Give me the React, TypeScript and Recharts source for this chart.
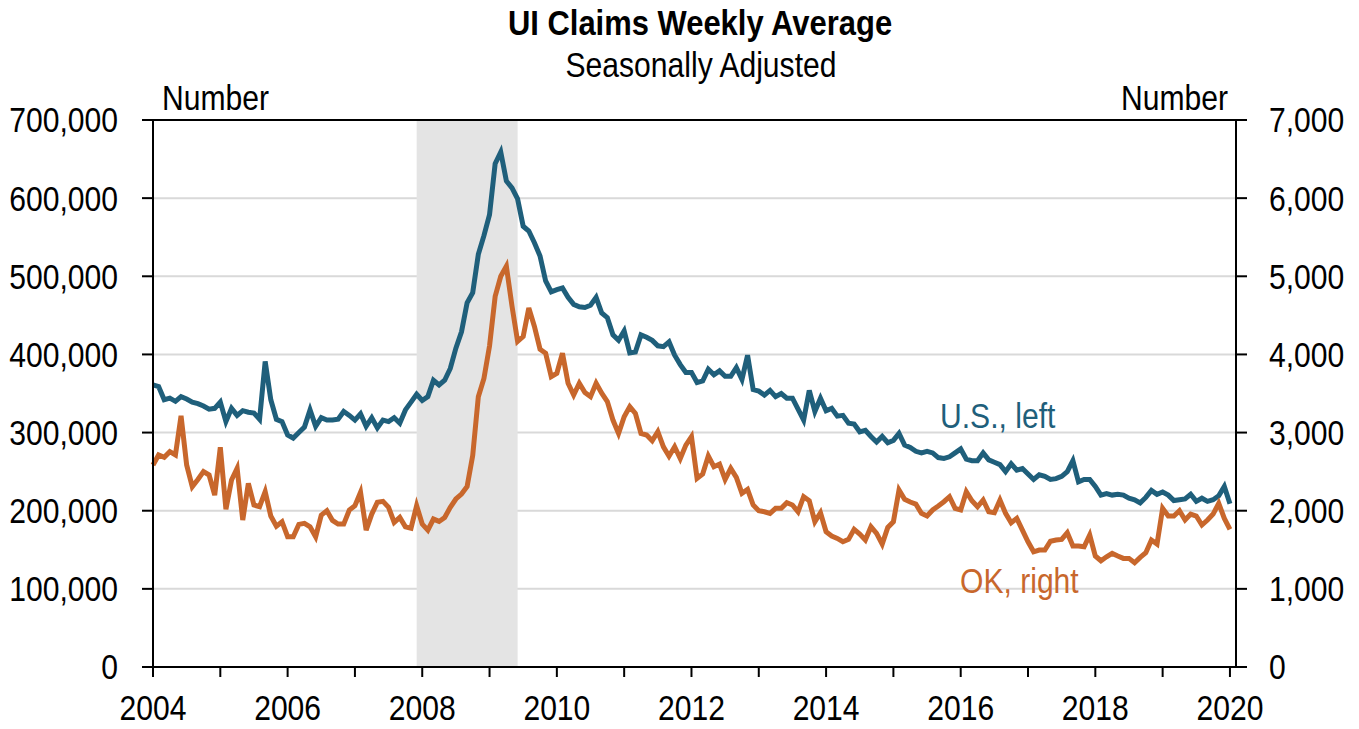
import React from 'react';
import {
  ComposedChart,
  Line,
  XAxis,
  YAxis,
  CartesianGrid,
  ReferenceArea,
  ReferenceLine,
} from 'recharts';

// no narrow font installed, so text is squeezed horizontally
const FONT = "'Liberation Sans', Arial, sans-serif";
const SQUEEZE = 0.86;
const US_COLOR = '#1f5f7b';
const OK_COLOR = '#c8672c';

// monthly, Jan 2004 .. Jan 2020
const START_YEAR = 2004;

// U.S. weekly average initial claims (thousands), left axis
const usClaims = [
  361, 359, 342, 344, 340, 346, 343, 339, 337, 334, 330, 331,
  339, 314, 331, 322, 328, 326, 325, 317, 391, 342, 317, 314,
  297, 293, 300, 307, 329, 308, 319, 316, 316, 317, 327, 322,
  316, 324, 308, 319, 306, 316, 314, 319, 312, 329, 339, 349,
  341, 346, 367, 361, 367, 382, 408, 429, 466, 479, 528, 552,
  579, 644, 659, 622, 613, 599, 564, 558, 543, 526, 494, 480,
  483, 485, 473, 464, 461, 460, 463, 473, 453, 447, 425, 418,
  430, 402, 403, 425, 422, 418, 411, 410, 416, 399, 387, 377,
  377, 364, 366, 381, 374, 379, 372, 372, 383, 368, 399, 355,
  353, 348, 354, 346, 350, 344, 344, 330, 316, 354, 327, 344,
  328, 331, 321, 322, 312, 311, 301, 303, 295, 288, 295, 287,
  290, 299, 284, 281, 276, 274, 276, 274, 268, 267, 269, 274,
  279, 266, 264, 264, 274, 265, 262, 259, 250, 260, 252, 254,
  247, 240, 246, 244, 240, 241, 244, 250, 264, 237, 240, 240,
  231, 220, 222, 220, 221, 220, 216, 214, 210, 217, 226, 221,
  224, 220, 213, 214, 215, 221, 212, 216, 212, 214, 219, 231,
  209,
];

// Oklahoma weekly average initial claims, right axis
const okClaims = [
  2585, 2714, 2684, 2756, 2714, 3214, 2585, 2308, 2400, 2500, 2457, 2200,
  2812, 2017, 2393, 2543, 1880, 2350, 2073, 2051, 2244, 1932, 1803, 1859,
  1667, 1667, 1825, 1838, 1795, 1667, 1944, 2000, 1876, 1829, 1829, 2009,
  2064, 2236, 1751, 1957, 2107, 2120, 2043, 1850, 1914, 1794, 1777, 2064,
  1829, 1751, 1893, 1863, 1914, 2043, 2150, 2214, 2309, 2707, 3457, 3693,
  4110, 4743, 5000, 5128, 4620, 4166, 4230, 4594, 4358, 4067, 4016, 3717,
  3759, 4016, 3631, 3481, 3631, 3511, 3460, 3631, 3503, 3396, 3160, 2989,
  3203, 3332, 3246, 2989, 2968, 2895, 3011, 2818, 2698, 2818, 2668, 2840,
  2947, 2414, 2469, 2699, 2563, 2597, 2401, 2542, 2426, 2222, 2273, 2073,
  2000, 1987, 1966, 2030, 2030, 2102, 2073, 1987, 2179, 2128, 1859, 1974,
  1731, 1676, 1646, 1603, 1633, 1761, 1701, 1625, 1795, 1709, 1573, 1786,
  1859, 2265, 2145, 2111, 2085, 1966, 1932, 2009, 2060, 2115, 2179, 2030,
  2009, 2244, 2128, 2051, 2137, 1987, 1974, 2137, 1966, 1846, 1902, 1752,
  1603, 1474, 1496, 1496, 1609, 1625, 1633, 1718, 1548, 1548, 1539, 1689,
  1420, 1360, 1411, 1454, 1420, 1390, 1390, 1334, 1403, 1462, 1625, 1573,
  2030, 1932, 1932, 2000, 1881, 1957, 1932, 1817, 1881, 1957, 2094, 1902,
  1761,
];

const yearTicks = [
  2004, 2005, 2006, 2007, 2008, 2009, 2010, 2011, 2012,
  2013, 2014, 2015, 2016, 2017, 2018, 2019, 2020,
];
const leftTicks = [0, 100000, 200000, 300000, 400000, 500000, 600000, 700000];
const rightTicks = [0, 1000, 2000, 3000, 4000, 5000, 6000, 7000];

// recession Dec 2007 - Jun 2009
const recession = [2007.917, 2009.417];

const data = usClaims.map((v, i) => ({
  t: START_YEAR + i / 12,
  us: v * 1000,
  ok: okClaims[i],
}));

const fmt = (v: number) => v.toLocaleString('en-US');
const yearFmt = (v: number) => (v % 2 === 0 ? String(v) : '');

function NarrowText({ x, y, anchor = 'start', size = 35, weight = 'normal', fill = '#000', dy = 0, children }: any) {
  return (
    <text
      transform={`translate(${x},${y}) scale(${SQUEEZE},1)`}
      textAnchor={anchor}
      fontFamily={FONT}
      fontSize={size}
      fontWeight={weight}
      fill={fill}
      dy={dy}
    >
      {children}
    </text>
  );
}

const makeTick = (format: (v: number) => string, dy: string) => (props: any) => {
  const { x, y, payload, textAnchor } = props;
  return (
    <NarrowText x={x} y={y} anchor={textAnchor} dy={dy}>
      {format(payload.value)}
    </NarrowText>
  );
};

const xTick = makeTick(yearFmt, '0.71em');
const yTick = makeTick(fmt, '0.355em');

export default function App() {
  return (
    <div style={{ position: 'absolute', left: 0, top: 0, width: 1359, height: 729, background: '#fff' }}>
      <ComposedChart
        width={1359}
        height={729}
        data={data}
        margin={{ top: 120, right: 0, bottom: 0, left: 0 }}
      >
        <CartesianGrid yAxisId="left" vertical={false} stroke="#d9d9d9" strokeWidth={2} />
        <ReferenceArea
          yAxisId="left"
          x1={recession[0]}
          x2={recession[1]}
          y1={0}
          y2={700000}
          fill="#e4e4e4"
          fillOpacity={1}
          stroke="none"
        />
        <ReferenceLine yAxisId="left" y={700000} stroke="#000" strokeWidth={2} />
        <XAxis
          dataKey="t"
          type="number"
          domain={[2004, 2020.09]}
          ticks={yearTicks}
          height={62}
          tickSize={10}
          tickMargin={18}
          stroke="#000"
          strokeWidth={2}
          tick={xTick}
          interval={0}
        />
        <YAxis
          yAxisId="left"
          orientation="left"
          domain={[0, 700000]}
          ticks={leftTicks}
          width={153}
          tickSize={11}
          tickMargin={24}
          stroke="#000"
          strokeWidth={2}
          tick={yTick}
          interval={0}
        />
        <YAxis
          yAxisId="right"
          orientation="right"
          domain={[0, 7000]}
          ticks={rightTicks}
          width={123}
          tickSize={11}
          tickMargin={22}
          stroke="#000"
          strokeWidth={2}
          tick={yTick}
          interval={0}
        />
        <Line
          yAxisId="left"
          dataKey="us"
          stroke={US_COLOR}
          strokeWidth={5}
          dot={false}
          isAnimationActive={false}
        />
        <Line
          yAxisId="right"
          dataKey="ok"
          stroke={OK_COLOR}
          strokeWidth={5}
          dot={false}
          isAnimationActive={false}
        />
      </ComposedChart>
      <svg
        width={1359}
        height={729}
        style={{ position: 'absolute', left: 0, top: 0, pointerEvents: 'none' }}
      >
        <NarrowText x={700} y={35} anchor="middle" size={36} weight="bold">
          UI Claims Weekly Average
        </NarrowText>
        <NarrowText x={701} y={77} anchor="middle">
          Seasonally Adjusted
        </NarrowText>
        <NarrowText x={162} y={110}>Number</NarrowText>
        <NarrowText x={1228} y={110} anchor="end">Number</NarrowText>
        <NarrowText x={940} y={428} fill={US_COLOR}>U.S., left</NarrowText>
        <NarrowText x={960} y={593} fill={OK_COLOR}>OK, right</NarrowText>
      </svg>
    </div>
  );
}
